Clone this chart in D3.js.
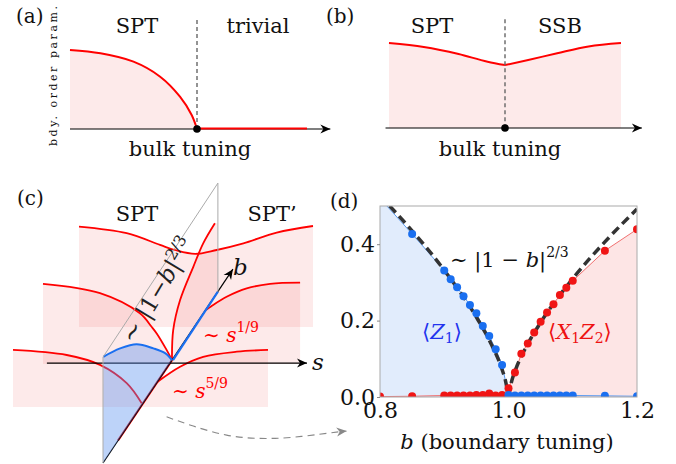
<!DOCTYPE html>
<html>
<head>
<meta charset="utf-8">
<script src="https://cdnjs.cloudflare.com/ajax/libs/d3/7.8.5/d3.min.js"></script>
<style>
  body { margin: 0; background: #fff; }
  text { font-family: "DejaVu Serif", "Liberation Serif", "Noto Serif", serif; fill: #111; }
</style>
</head>
<body>
<div id="chart"></div>
<script>
// ---- panel (a): boundary order parameter vs bulk tuning, SPT -> trivial
const aTune  = [-1, -0.76, -0.5, -0.29, -0.134, -0.042, 0];
const aOrder = [1.0, 0.958, 0.852, 0.662, 0.409, 0.177, 0];
const aFlatEnd = 0.866;

// ---- panel (b): SPT -> SSB, order parameter stays finite
const bTune  = [-1, -0.7, -0.4, -0.15, 0, 0.2, 0.45, 0.72, 1];
const bOrder = [1, 0.953, 0.87, 0.78, 0.74, 0.80, 0.88, 0.96, 1];

// ---- panel (c): schematic, diagram units (u, v)
const backCurve  = [[22,78.8],[37.9,76.6],[49,72.7],[54,71],[60.7,69.7],[67.9,71],[76.8,73.2],[87.9,76.8],[100,79]];
const midLeft    = [[10,59.7],[29,56.6],[42.3,49.9],[46.2,45.4],[47.9,43.2],[51.2,37.7],[53,34.3]];
const midRight   = [[64.3,51],[66,52.2],[71.2,55.4],[77.9,58.2],[85.7,59.7],[95.7,60.1]];
const frontLeft  = [[0,37.7],[17.9,36],[29,32.7],[37.9,26.6],[42.9,19.9]];
const frontRight = [[48.2,27.1],[55.7,32.1],[63.4,35.4],[74.6,37.1],[85,37.7]];
const planeRed   = [[53,34.3],[53.4,44.3],[55.7,54.3],[60.1,65.4],[63.4,73.2],[67.3,79.9]];
const planeBlue  = [[30.1,35.4],[35.7,38.2],[41.2,39.6],[46.8,38.2],[50.7,36.6],[53,34.3]];
const planeCorners = { A: [30, 0], B: [30, 35.3], C: [68.3, 93.3], D: [68.3, 57.1] };
const origin = [53, 34.3];
const bTip = [73.3, 64.6];
const redAxisStart = [35, 7.5];
const sAxis = [[11.3, 33.3], [98, 33.3]];
const sheetBottom = { back: 45.3, mid: 33, front: 18.7 };
const linkArrow = [[51.2,15.4],[60.1,12.3],[71.2,9.3],[82.3,8.2],[93.4,8.6],[104.6,9.9],[111.2,10.7]];

// ---- panel (d): data
const bVals = [0.80, 0.85, 0.90, 0.91, 0.92, 0.93, 0.94, 0.95, 0.96, 0.97, 0.98, 0.99, 1.00,
               1.01, 1.02, 1.03, 1.04, 1.05, 1.06, 1.07, 1.08, 1.09, 1.10, 1.15, 1.20];
const z1   = [0.52, 0.427, 0.331, 0.308, 0.287, 0.264, 0.241, 0.219, 0.186, 0.160, 0.125, 0.084, 0.005,
              0.004, 0.004, 0.004, 0.004, 0.004, 0.004, 0.004, 0.004, 0.004, 0.004, 0.003, 0.002];
const x1z2 = [0.001, 0.002, 0.004, 0.004, 0.004, 0.004, 0.004, 0.005, 0.005, 0.009, 0.004, 0.005, 0.023,
              0.064, 0.113, 0.140, 0.169, 0.197, 0.221, 0.243, 0.267, 0.286, 0.304, 0.383, 0.439];
const fitB = [0.8, 0.85, 0.9, 0.95, 0.97, 0.99, 0.995, 1.0, 1.005, 1.01, 1.03, 1.05, 1.1, 1.15, 1.2];
const fitV = [0.527, 0.435, 0.332, 0.209, 0.149, 0.072, 0.045, 0, 0.042, 0.067, 0.139, 0.195, 0.31, 0.406, 0.492];
const yTicks = [0, 0.2, 0.4];
const xTicks = [0.8, 1.0, 1.2];

const RED = "#ff0000";
const PINK = "rgba(240,60,60,0.11)";
const FONT = "DejaVu Serif, Liberation Serif, Noto Serif, serif";

const svg = d3.select("#chart").append("svg").attr("width", 676).attr("height", 464);
const defs = svg.append("defs");

function arrowMarker(id, color) {
  defs.append("marker").attr("id", id)
    .attr("viewBox", "-11 -6 12 12").attr("refX", 0).attr("refY", 0)
    .attr("markerWidth", 12).attr("markerHeight", 12)
    .attr("markerUnits", "userSpaceOnUse").attr("orient", "auto")
    .append("path").attr("d", "M0,0 L-10,-4.5 L-7,0 L-10,4.5 Z").attr("fill", color);
}
arrowMarker("arrowK", "#000");
arrowMarker("arrowG", "#888");

function label(g, txt, x, y, size, anchor) {
  return g.append("text").attr("x", x).attr("y", y).attr("font-size", size)
    .attr("text-anchor", anchor || "middle").text(txt);
}

// =========== (a)
const ga = svg.append("g");
const aX = d3.scaleLinear().domain([-1, 1]).range([70, 324]);
const aY = d3.scaleLinear().domain([0, 1]).range([129, 50]);
const aPts = d3.zip(aTune, aOrder);
ga.append("path").datum(aPts).attr("fill", PINK)
  .attr("d", d3.area().x(d => aX(d[0])).y0(aY(0)).y1(d => aY(d[1])).curve(d3.curveCatmullRom.alpha(0.5)));
ga.append("line").attr("x1", aX(-1)).attr("x2", aX(1.05)).attr("y1", aY(0)).attr("y2", aY(0))
  .attr("stroke", "#000").attr("stroke-width", 1.2).attr("marker-end", "url(#arrowK)");
ga.append("path").datum(aPts).attr("fill", "none").attr("stroke", RED).attr("stroke-width", 2)
  .attr("d", d3.line().x(d => aX(d[0])).y(d => aY(d[1])).curve(d3.curveCatmullRom.alpha(0.5)));
ga.append("line").attr("x1", aX(0)).attr("x2", aX(aFlatEnd)).attr("y1", aY(0) - 0.5).attr("y2", aY(0) - 0.5)
  .attr("stroke", RED).attr("stroke-width", 2);
ga.append("line").attr("x1", aX(0)).attr("x2", aX(0)).attr("y1", aY(1.38)).attr("y2", aY(0))
  .attr("stroke", "#666").attr("stroke-width", 1.4).attr("stroke-dasharray", "4,3");
ga.append("circle").attr("cx", aX(0)).attr("cy", aY(0)).attr("r", 3.8).attr("fill", "#000");
label(ga, "(a)", 16, 23, 20, "start");
label(ga, "SPT", 137, 33, 21);
label(ga, "trivial", 258, 33, 21);
label(ga, "bulk tuning", 190, 156, 21);
ga.append("text").attr("transform", "translate(57,76) rotate(-90)").attr("text-anchor", "middle")
  .attr("font-size", 11).attr("textLength", 140).attr("lengthAdjust", "spacing").text("bdy. order param.");

// =========== (b)
const gb = svg.append("g");
const bX = d3.scaleLinear().domain([-1, 1]).range([389, 621]);
const bY = d3.scaleLinear().domain([0, 1]).range([128, 43]);
const bPts = d3.zip(bTune, bOrder);
const bLeft = bPts.filter(d => d[0] <= 0), bRight = bPts.filter(d => d[0] >= 0);
const bArea = d3.area().x(d => bX(d[0])).y0(bY(0)).y1(d => bY(d[1])).curve(d3.curveMonotoneX);
const bLine = d3.line().x(d => bX(d[0])).y(d => bY(d[1])).curve(d3.curveMonotoneX);
[bLeft, bRight].forEach(seg => gb.append("path").datum(seg).attr("fill", PINK).attr("d", bArea));
gb.append("line").attr("x1", bX(-1.03)).attr("x2", bX(1.18)).attr("y1", bY(0)).attr("y2", bY(0))
  .attr("stroke", "#000").attr("stroke-width", 1.2).attr("marker-end", "url(#arrowK)");
[bLeft, bRight].forEach(seg => gb.append("path").datum(seg).attr("fill", "none")
  .attr("stroke", RED).attr("stroke-width", 2).attr("d", bLine));
gb.append("line").attr("x1", bX(0)).attr("x2", bX(0)).attr("y1", bY(1.28)).attr("y2", bY(0))
  .attr("stroke", "#666").attr("stroke-width", 1.4).attr("stroke-dasharray", "4,3");
gb.append("circle").attr("cx", bX(0)).attr("cy", bY(0)).attr("r", 3.8).attr("fill", "#000");
label(gb, "(b)", 326, 23, 20, "start");
label(gb, "SPT", 432, 33, 21);
label(gb, "SSB", 560, 33, 21);
label(gb, "bulk tuning", 500, 156, 21);

// =========== (c)
const gc = svg.append("g");
const cx = d3.scaleLinear().domain([0, 100]).range([13, 313]);
const cy = d3.scaleLinear().domain([0, 100]).range([463, 163]);
const P = d => [cx(d[0]), cy(d[1])];
const smooth = d3.line().x(d => cx(d[0])).y(d => cy(d[1])).curve(d3.curveCatmullRom.alpha(0.5));
const poly = pts => "M" + pts.map(d => P(d).join(",")).join("L") + "Z";

function sheetPath(curves, left, right, bottom) {
  // outline: left-bottom corner, curves along the top, right-bottom corner
  let d = `M${cx(left)},${cy(bottom)}`;
  curves.forEach(c => { d += "L" + smooth(c).slice(1); });
  d += `L${cx(right)},${cy(bottom)}Z`;
  return d;
}
gc.append("path").attr("fill", PINK).attr("d", sheetPath([backCurve], 22, 100, sheetBottom.back));
gc.append("path").attr("fill", PINK)
  .attr("d", "M" + smooth(planeRed).slice(1) + "L" + P([planeCorners.D[0], planeRed[planeRed.length - 1][1]]).join(",")
    + "L" + P(planeCorners.D).join(",") + "Z");
gc.append("path").attr("fill", PINK).attr("d", sheetPath([midLeft, midRight], 10, 95.7, sheetBottom.mid));
gc.append("path").attr("fill", PINK).attr("d", sheetPath([frontLeft, frontRight], 0, 85, sheetBottom.front));

// red order-parameter curves
[backCurve, midLeft, midRight, frontLeft, frontRight, planeRed].forEach(c =>
  gc.append("path").attr("d", smooth(c)).attr("fill", "none").attr("stroke", RED).attr("stroke-width", 1.8));
gc.append("line").attr("x1", cx(redAxisStart[0])).attr("y1", cy(redAxisStart[1]))
  .attr("x2", cx(origin[0])).attr("y2", cy(origin[1])).attr("stroke", RED).attr("stroke-width", 2.2);

// axes
gc.append("line").attr("x1", cx(sAxis[0][0])).attr("y1", cy(sAxis[0][1]))
  .attr("x2", cx(sAxis[1][0])).attr("y2", cy(sAxis[1][1]))
  .attr("stroke", "#000").attr("stroke-width", 1.2).attr("marker-end", "url(#arrowK)");
gc.append("line").attr("x1", cx(planeCorners.A[0])).attr("y1", cy(planeCorners.A[1]))
  .attr("x2", cx(bTip[0])).attr("y2", cy(bTip[1]))
  .attr("stroke", "#000").attr("stroke-width", 1.2).attr("marker-end", "url(#arrowK)");

// blue region in the s = 0 plane
gc.append("path").attr("fill", "rgba(90,145,240,0.4)")
  .attr("d", poly([planeCorners.A].concat(planeBlue)));
gc.append("path").attr("d", smooth(planeBlue)).attr("fill", "none").attr("stroke", "#1a6ff0").attr("stroke-width", 2);
gc.append("line").attr("x1", cx(origin[0]) + 1).attr("y1", cy(origin[1]))
  .attr("x2", cx(planeCorners.D[0])).attr("y2", cy(planeCorners.D[1]))
  .attr("stroke", "#1a6ff0").attr("stroke-width", 2.2);

// plane outline
gc.append("path").attr("fill", "none").attr("stroke", "#aaa").attr("stroke-width", 1)
  .attr("d", "M" + [planeCorners.A, planeCorners.B, planeCorners.C, planeCorners.D].map(d => P(d).join(",")).join("L"));

// dashed link to (d)
gc.append("path").attr("d", d3.line().x(d => cx(d[0])).y(d => cy(d[1])).curve(d3.curveNatural)(linkArrow))
  .attr("fill", "none").attr("stroke", "#888").attr("stroke-width", 1.1).attr("stroke-dasharray", "7,5")
  .attr("marker-end", "url(#arrowG)");

label(gc, "(c)", 17, 205, 20, "start");
label(gc, "SPT", 137, 221, 21);
label(gc, "SPT\u2019", 272, 221, 21);
gc.append("text").attr("x", 312).attr("y", 370).attr("font-size", 23).attr("font-style", "italic").text("s");
gc.append("text").attr("x", 233).attr("y", 275).attr("font-size", 23).attr("font-style", "italic").text("b");

function powerLabel(x, y, exp) {
  const t = gc.append("text").attr("x", x).attr("y", y).attr("font-size", 20).style("fill", RED);
  t.append("tspan").text("\u223C ");
  t.append("tspan").attr("font-style", "italic").text("s");
  t.append("tspan").attr("dy", -10).attr("font-size", 14).text(exp);
}
powerLabel(203, 342, "1/9");
powerLabel(172, 398, "5/9");

const rt = gc.append("text").attr("transform", "translate(134,345) rotate(-59)").attr("font-size", 23).style("fill", "#222");
rt.append("tspan").attr("font-size", 25).text("\u223C");
rt.append("tspan").text(" |1\u2212");
rt.append("tspan").attr("font-style", "italic").text("b");
rt.append("tspan").text("|");
rt.append("tspan").attr("dy", -9).attr("font-size", 16).text("2/3");

// =========== (d)
const gd = svg.append("g");
const dX = d3.scaleLinear().domain([0.8, 1.2]).range([380, 637]);
const dY = d3.scaleLinear().domain([0, 0.5]).range([397, 206]);
defs.append("clipPath").attr("id", "dclip").append("rect")
  .attr("x", dX(0.8)).attr("y", dY(0.5)).attr("width", dX(1.2) - dX(0.8)).attr("height", dY(0) - dY(0.5));
const plot = gd.append("g").attr("clip-path", "url(#dclip)");
const blueData = d3.zip(bVals, z1), redData = d3.zip(bVals, x1z2);
const dArea = d3.area().x(d => dX(d[0])).y0(dY(0)).y1(d => dY(d[1]));
const dLine = d3.line().x(d => dX(d[0])).y(d => dY(d[1]));
plot.append("path").datum(blueData).attr("fill", "rgba(90,150,240,0.18)").attr("d", dArea);
plot.append("path").datum(redData).attr("fill", "rgba(240,80,80,0.15)").attr("d", dArea);
plot.append("path").datum(blueData).attr("fill", "none").attr("stroke", "#5b9bf0").attr("stroke-width", 1).attr("d", dLine);
plot.append("path").datum(redData).attr("fill", "none").attr("stroke", "#f07070").attr("stroke-width", 1).attr("d", dLine);

const fit = d3.zip(fitB, fitV);
const fitLine = d3.line().x(d => dX(d[0])).y(d => dY(d[1])).curve(d3.curveMonotoneX);
[fit.filter(d => d[0] <= 1), fit.filter(d => d[0] >= 1)].forEach(seg =>
  plot.append("path").datum(seg).attr("fill", "none").attr("stroke", "#333")
    .attr("stroke-width", 3.5).attr("stroke-dasharray", "9,5").attr("d", fitLine));

plot.selectAll(".rdot").data(redData).join("circle").attr("class", "rdot")
  .attr("cx", d => dX(d[0])).attr("cy", d => dY(d[1])).attr("r", 4).attr("fill", "#f01515");
plot.selectAll(".bdot").data(blueData).join("circle").attr("class", "bdot")
  .attr("cx", d => dX(d[0])).attr("cy", d => dY(d[1])).attr("r", 4).attr("fill", "#1a6ff0");

gd.append("rect").attr("x", dX(0.8)).attr("y", dY(0.5)).attr("width", dX(1.2) - dX(0.8))
  .attr("height", dY(0) - dY(0.5)).attr("fill", "none").attr("stroke", "#aaa").attr("stroke-width", 1);

const yAx = gd.append("g").attr("transform", `translate(${dX(0.8)},0)`)
  .call(d3.axisLeft(dY).tickValues(yTicks).tickFormat(d3.format(".1f")).tickSize(3).tickPadding(2));
const xAx = gd.append("g").attr("transform", `translate(0,${dY(0)})`)
  .call(d3.axisBottom(dX).tickValues(xTicks).tickFormat(d3.format(".1f")).tickSize(0).tickPadding(5));
[yAx, xAx].forEach(a => {
  a.select(".domain").remove();
  a.selectAll("line").attr("stroke", "#888");
  a.selectAll("text").attr("font-size", 22).attr("font-family", FONT).style("fill", "#111");
});

label(gd, "(d)", 330, 208, 20, "start");
const fl = gd.append("text").attr("x", 450).attr("y", 267).attr("font-size", 21);
fl.append("tspan").text("\u223C |1 \u2212 ");
fl.append("tspan").attr("font-style", "italic").text("b");
fl.append("tspan").text("|");
fl.append("tspan").attr("dy", -10).attr("font-size", 14).text("2/3");

const zl = gd.append("text").attr("x", 422).attr("y", 339).attr("font-size", 21).style("fill", "#2233ee");
zl.append("tspan").text("\u27E8");
zl.append("tspan").attr("font-style", "italic").text("Z");
zl.append("tspan").attr("dy", 4).attr("font-size", 14).text("1");
zl.append("tspan").attr("dy", -4).text("\u27E9");

const xl = gd.append("text").attr("x", 548).attr("y", 339).attr("font-size", 21).style("fill", "#ee1111");
xl.append("tspan").text("\u27E8");
xl.append("tspan").attr("font-style", "italic").text("X");
xl.append("tspan").attr("dy", 4).attr("font-size", 14).text("1");
xl.append("tspan").attr("dy", -4).attr("font-style", "italic").text("Z");
xl.append("tspan").attr("dy", 4).attr("font-size", 14).text("2");
xl.append("tspan").attr("dy", -4).text("\u27E9");

const bl = gd.append("text").attr("x", 507).attr("y", 449).attr("font-size", 21).attr("text-anchor", "middle");
bl.append("tspan").attr("font-style", "italic").text("b");
bl.append("tspan").text(" (boundary tuning)");
</script>
</body>
</html>
